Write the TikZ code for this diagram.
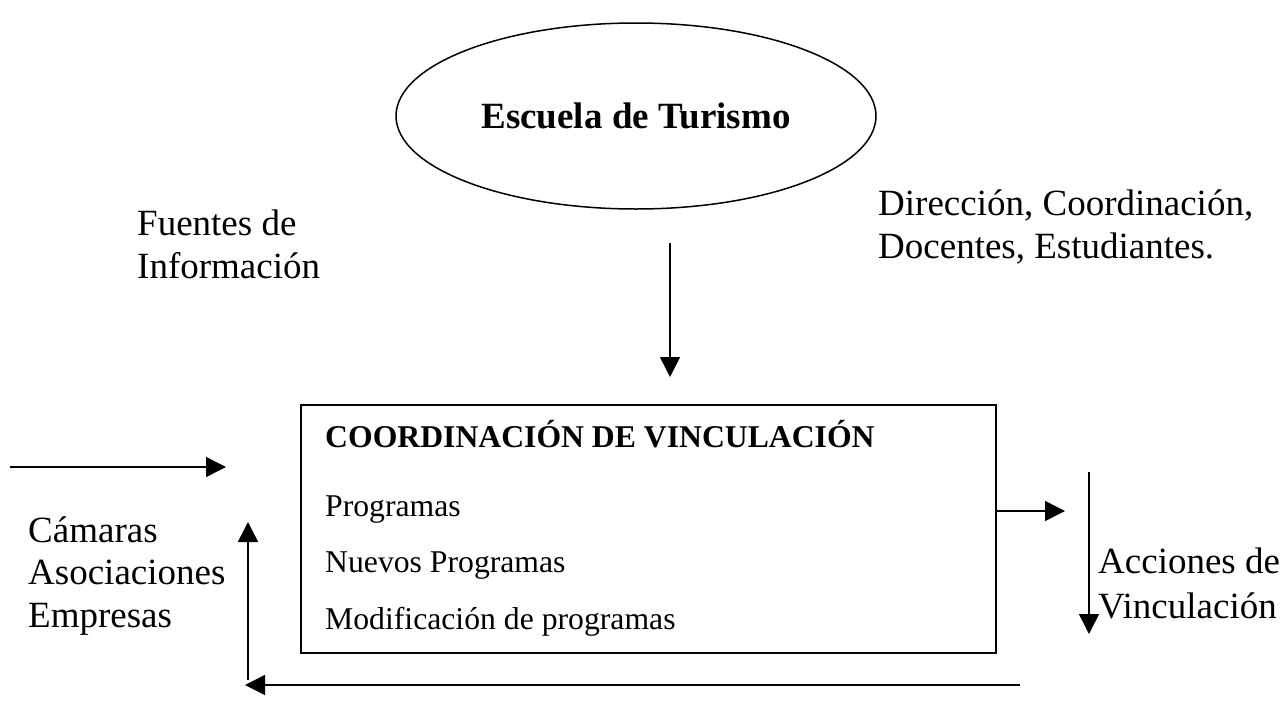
\documentclass[tikz,border=0pt]{standalone}
\usepackage{fontspec}
\setmainfont{Liberation Serif}
\usetikzlibrary{shapes.geometric,arrows.meta}
\begin{document}
\begin{tikzpicture}[x=1pt,y=-1pt,
  big/.style={font=\fontsize{37}{43}\selectfont, inner sep=0pt, anchor=base west},
  small/.style={font=\fontsize{31.7}{38}\selectfont, inner sep=0pt, anchor=base west},
  conn/.style={line width=1.5pt, -{Triangle[length=20pt,width=20pt]}},
  every node/.style={text=black}]
\useasboundingbox (0,0) rectangle (1285,720);
% ellipse
\node[draw, ellipse, line width=1.5pt, minimum width=480pt, minimum height=186pt, inner sep=0pt,
      font=\fontsize{37}{43}\selectfont\bfseries] (esc) at (636,116) {Escuela de Turismo};
% texts
\node[big] (f1) at (137,235) {Fuentes de};
\node[big] (f2) at (137,278) {Información};
\node[big] (d1) at (878,215) {Dirección, Coordinación,};
\node[big] (d2) at (878,258) {Docentes, Estudiantes.};
\node[big] (c1) at (28,542) {Cámaras};
\node[big] (c2) at (28,584) {Asociaciones};
\node[big] (c3) at (28,627) {Empresas};
\node[big] (a1) at (1098,573) {Acciones de};
\node[big] (a2) at (1098,618) {Vinculación};
% box
\node[draw, line width=1.8pt, minimum width=695pt, minimum height=248pt, inner sep=0pt, anchor=north west] (box) at (300,404) {};
\node[small, font=\fontsize{31.7}{38}\selectfont\bfseries] (t0) at (325,447) {COORDINACIÓN DE VINCULACIÓN};
\node[small] (t1) at (325,516) {Programas};
\node[small] (t2) at (325,572) {Nuevos Programas};
\node[small] (t3) at (325,629) {Modificación de programas};
% coordinates
\coordinate (v1) at (670,243);
\coordinate (v2) at (670,377);
\coordinate (l1) at (10,467);
\coordinate (l2) at (226,467);
\coordinate (u1) at (248,680);
\coordinate (u2) at (248,522);
\coordinate (r2) at (1065,511);
\coordinate (dn1) at (1089,472);
\coordinate (dn2) at (1089,634);
\coordinate (b1) at (1020,685);
\coordinate (b2) at (245,685);
% arrows
\draw[conn] (v1) -- (v2);
\draw[conn] (l1) -- (l2);
\draw[conn] (u1) -- (u2);
\draw[conn] (box.east |- r2) -- (r2);
\draw[conn] (dn1) -- (dn2);
\draw[conn] (b1) -- (b2);
\end{tikzpicture}
\end{document}
